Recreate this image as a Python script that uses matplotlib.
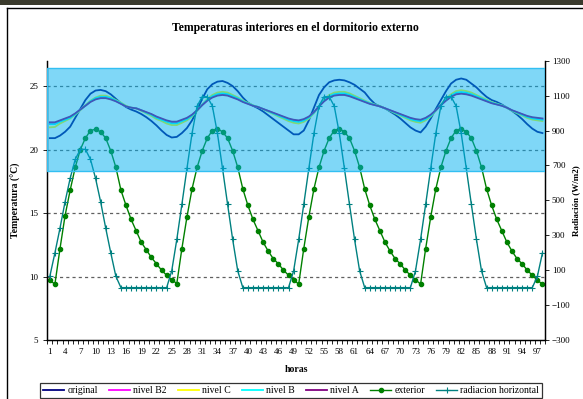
import matplotlib
matplotlib.use("Agg")
import matplotlib.pyplot as plt
import matplotlib.transforms as mtransforms
from matplotlib.patches import Rectangle
from matplotlib.lines import Line2D

plt.rcParams['font.family'] = ['Liberation Serif', 'DejaVu Serif']

hours = list(range(1, 99))
xtick_labels = list(range(1, 98, 3))

original = [20.9, 20.9, 21.1, 21.4, 21.8, 22.5, 23.2, 23.9, 24.4, 24.65, 24.7, 24.6, 24.35, 24.0, 23.65, 23.35, 23.15, 23.0, 22.8, 22.55, 22.25, 21.9, 21.5, 21.15,
            20.95, 21.0, 21.3, 21.7, 22.3, 23.1, 24.0, 24.75, 25.15, 25.35, 25.4, 25.25, 25.0, 24.6, 24.1, 23.7, 23.45, 23.25, 23.0, 22.7, 22.4, 22.1, 21.8, 21.5,
            21.2, 21.2, 21.5, 22.3, 23.3, 24.3, 24.9, 25.3, 25.45, 25.5, 25.45, 25.3, 25.1, 24.8, 24.5, 24.0, 23.6, 23.4, 23.25, 23.0, 22.75, 22.45, 22.1, 21.75,
            21.5, 21.35, 21.8, 22.45, 23.2, 23.9, 24.6, 25.2, 25.5, 25.6, 25.5, 25.2, 24.9, 24.5, 24.15, 23.9, 23.75, 23.55, 23.3, 23.05, 22.75, 22.4, 22.0, 21.65, 21.4, 21.3]

nivel_B2 = [22.05, 22.08, 22.25, 22.4, 22.55, 22.82, 23.14, 23.46, 23.78, 24.0, 24.1, 24.1, 24.0, 23.83, 23.62, 23.4, 23.3, 23.25, 23.09, 22.93, 22.77, 22.56, 22.4, 22.24,
            22.13, 22.13, 22.29, 22.45, 22.72, 23.09, 23.51, 23.88, 24.15, 24.31, 24.36, 24.31, 24.15, 23.99, 23.78, 23.62, 23.46, 23.35, 23.19, 23.04, 22.88, 22.72, 22.56, 22.4,
            22.29, 22.24, 22.35, 22.56, 22.93, 23.41, 23.83, 24.15, 24.31, 24.36, 24.36, 24.25, 24.1, 23.94, 23.78, 23.62, 23.51, 23.41, 23.25, 23.09, 22.93, 22.77, 22.61, 22.45,
            22.35, 22.29, 22.45, 22.72, 23.09, 23.51, 23.88, 24.2, 24.41, 24.47, 24.41, 24.31, 24.15, 23.99, 23.83, 23.67, 23.57, 23.46, 23.3, 23.09, 22.93, 22.77, 22.61, 22.5, 22.45, 22.4]

nivel_C = [21.75, 21.78, 22.05, 22.25, 22.45, 22.75, 23.1, 23.5, 23.85, 24.1, 24.25, 24.25, 24.1, 23.9, 23.7, 23.45, 23.3, 23.25, 23.05, 22.85, 22.65, 22.4, 22.25, 22.05,
           21.93, 21.93, 22.11, 22.3, 22.61, 23.05, 23.55, 23.99, 24.3, 24.49, 24.55, 24.49, 24.3, 24.11, 23.86, 23.68, 23.49, 23.36, 23.18, 22.99, 22.8, 22.61, 22.43, 22.24,
           22.11, 22.05, 22.18, 22.43, 22.86, 23.43, 23.93, 24.3, 24.49, 24.55, 24.55, 24.43, 24.24, 24.05, 23.86, 23.68, 23.55, 23.43, 23.24, 23.05, 22.86, 22.68, 22.49, 22.3,
           22.18, 22.11, 22.3, 22.61, 23.05, 23.55, 23.99, 24.36, 24.61, 24.68, 24.61, 24.49, 24.3, 24.11, 23.93, 23.74, 23.61, 23.49, 23.3, 23.05, 22.86, 22.68, 22.49, 22.36, 22.3, 22.24]

nivel_B = [22.0, 22.0, 22.2, 22.35, 22.5, 22.8, 23.15, 23.45, 23.8, 24.05, 24.15, 24.15, 24.05, 23.85, 23.65, 23.4, 23.3, 23.25, 23.1, 22.9, 22.75, 22.5, 22.35, 22.2,
           22.07, 22.07, 22.24, 22.4, 22.68, 23.08, 23.52, 23.92, 24.2, 24.36, 24.42, 24.36, 24.2, 24.03, 23.8, 23.64, 23.47, 23.36, 23.19, 23.02, 22.85, 22.68, 22.52, 22.35,
           22.24, 22.18, 22.29, 22.52, 22.91, 23.41, 23.86, 24.2, 24.36, 24.42, 24.42, 24.31, 24.14, 23.97, 23.8, 23.64, 23.52, 23.41, 23.24, 23.08, 22.91, 22.74, 22.57, 22.4,
           22.29, 22.24, 22.4, 22.68, 23.08, 23.52, 23.92, 24.25, 24.48, 24.53, 24.48, 24.36, 24.2, 24.03, 23.86, 23.69, 23.58, 23.47, 23.3, 23.08, 22.91, 22.74, 22.57, 22.46, 22.4, 22.35]

nivel_A = [22.15, 22.15, 22.3, 22.45, 22.6, 22.85, 23.15, 23.45, 23.75, 23.95, 24.05, 24.05, 23.95, 23.8, 23.6, 23.4, 23.3, 23.25, 23.1, 22.95, 22.8, 22.6, 22.45, 22.3,
           22.2, 22.2, 22.35, 22.5, 22.75, 23.1, 23.5, 23.85, 24.1, 24.25, 24.3, 24.25, 24.1, 23.95, 23.75, 23.6, 23.45, 23.35, 23.2, 23.05, 22.9, 22.75, 22.6, 22.45,
           22.35, 22.3, 22.4, 22.6, 22.95, 23.4, 23.8, 24.1, 24.25, 24.3, 24.3, 24.2, 24.05, 23.9, 23.75, 23.6, 23.5, 23.4, 23.25, 23.1, 22.95, 22.8, 22.65, 22.5,
           22.4, 22.35, 22.5, 22.75, 23.1, 23.5, 23.85, 24.15, 24.35, 24.4, 24.35, 24.25, 24.1, 23.95, 23.8, 23.65, 23.55, 23.45, 23.3, 23.1, 22.95, 22.8, 22.65, 22.55, 22.5, 22.45]

exterior = [9.7, 9.4, 12.2, 14.8, 16.8, 18.6, 20.0, 20.9, 21.5, 21.6, 21.4, 20.9, 19.9, 18.6, 16.8, 15.6, 14.5, 13.6, 12.7, 12.1, 11.5, 11.0, 10.5, 10.1,
            9.75, 9.45, 12.2, 14.7, 16.9, 18.6, 19.9, 20.9, 21.5, 21.65, 21.4, 20.9, 19.9, 18.6, 16.9, 15.6, 14.5, 13.6, 12.7, 12.0, 11.4, 11.0, 10.5, 10.1,
            9.75, 9.4, 12.2, 14.7, 16.9, 18.6, 19.9, 20.9, 21.5, 21.65, 21.4, 20.9, 19.9, 18.6, 16.9, 15.6, 14.5, 13.6, 12.7, 12.0, 11.4, 11.0, 10.5, 10.1,
            9.75, 9.4, 12.2, 14.7, 16.9, 18.6, 19.9, 20.9, 21.5, 21.65, 21.4, 20.9, 19.9, 18.6, 16.9, 15.6, 14.5, 13.6, 12.7, 12.0, 11.4, 11.0, 10.5, 10.1, 9.7, 9.4]

radiacion = [65, 199, 341, 492, 626, 735, 792, 792, 735, 626, 492, 341, 199, 65, 0, 0, 0, 0, 0, 0, 0, 0, 0, 0,
             96, 276, 477, 683, 884, 1040, 1094, 1094, 1040, 884, 683, 477, 276, 96, 0, 0, 0, 0, 0, 0, 0, 0, 0, 0,
             96, 276, 477, 683, 884, 1040, 1094, 1094, 1040, 884, 683, 477, 276, 96, 0, 0, 0, 0, 0, 0, 0, 0, 0, 0,
             96, 276, 477, 683, 884, 1040, 1094, 1094, 1040, 884, 683, 477, 276, 96, 0, 0, 0, 0, 0, 0, 0, 0, 0, 0, 65, 199]

band_low, band_high = 18.3, 26.45

W, H = 583, 399
fig = plt.figure(figsize=(W / 100, H / 100), dpi=100)
ax = fig.add_axes([47.3 / W, 1 - 340 / H, (545 - 47.3) / W, (340 - 60.7) / H])
ax2 = ax.twinx()

ax.plot(hours, original, color='#000080', lw=1.3, label='original')
ax.plot(hours, nivel_B2, color='#FF00FF', lw=1.3, label='nivel B2')
ax.plot(hours, nivel_C, color='#FFFF00', lw=1.3, label='nivel C')
ax.plot(hours, nivel_B, color='#00FFFF', lw=1.3, label='nivel B')
ax.plot(hours, nivel_A, color='#800080', lw=1.3, label='nivel A')
ax.plot(hours, exterior, color='#008000', lw=1.0, marker='o', ms=3.0, label='exterior')
ax2.plot(hours, radiacion, color='#008080', lw=1.0, marker='+', ms=4.5, mew=0.8, label='radiacion horizontal')

ax.set_xlim(0.5, 98.5)
ax.set_ylim(5, 27)
ax2.set_ylim(-300, 1300)
ax.set_yticks([5, 10, 15, 20, 25])
ax2.set_yticks(list(range(-300, 1301, 200)))
ax.set_xticks(xtick_labels)
ax.set_xticks([h + 0.5 for h in range(0, 99)], minor=True)
ax.tick_params(axis='x', which='major', length=0, labelsize=6.5, pad=6)
ax.tick_params(axis='x', which='minor', length=3, direction='out', width=0.6)
ax.tick_params(axis='y', length=3, labelsize=6.5, width=0.6)
ax2.tick_params(axis='y', length=3, labelsize=6.5, width=0.6, pad=2)

for y in [10, 15, 20, 25]:
    ax.axhline(y, color='#606060', lw=0.9, ls=(0, (2.5, 2.5)), zorder=0.5)

for a in (ax, ax2):
    a.spines['top'].set_visible(False)
    for s in ('left', 'right', 'bottom'):
        a.spines[s].set_linewidth(0.9)

ax.set_xlabel('horas', fontsize=7, fontweight='bold', labelpad=6)
ax.set_ylabel('Temperatura (°C)', fontsize=7, fontweight='bold', labelpad=6)
ax2.set_ylabel('Radiación (W/m2)', fontsize=6.5, fontweight='bold', labelpad=1)

trans = mtransforms.blended_transform_factory(ax2.transAxes, ax.transData)
band = Rectangle((0, band_low), 1, band_high - band_low, transform=trans,
                 facecolor=(0.0, 0.69, 0.94, 0.5), edgecolor=(0.2, 0.75, 0.95, 1.0),
                 lw=1.0, zorder=10)
ax2.add_patch(band)

fig.text(295 / W, 1 - 28 / H, 'Temperaturas interiores en el dormitorio externo',
         ha='center', va='center', fontsize=8.5, fontweight='bold')

h1, l1 = ax.get_legend_handles_labels()
h2, l2 = ax2.get_legend_handles_labels()
leg = fig.legend(h1 + h2, l1 + l2, loc='lower left', ncol=7, mode='expand',
                 bbox_to_anchor=(40 / W, 1 / H, 502 / W, 22 / H), fontsize=7,
                 frameon=True, fancybox=False, borderpad=0.3, handlelength=2.2,
                 handletextpad=0.3, columnspacing=0.5, borderaxespad=0)
leg.get_frame().set_edgecolor('black')
leg.get_frame().set_linewidth(0.9)

# chart area border and top strip
fig.add_artist(Line2D([7 / W, 7 / W], [0, 1 - 7.5 / H], color='black', lw=1.0, transform=fig.transFigure))
fig.add_artist(Line2D([7 / W, 1], [1 - 7.5 / H, 1 - 7.5 / H], color='black', lw=1.0, transform=fig.transFigure))
fig.add_artist(Rectangle((0, 1 - 5 / H), 1, 5 / H, transform=fig.transFigure, facecolor='#3a3a2c', edgecolor='none'))

fig.savefig('out.png', dpi=100)
